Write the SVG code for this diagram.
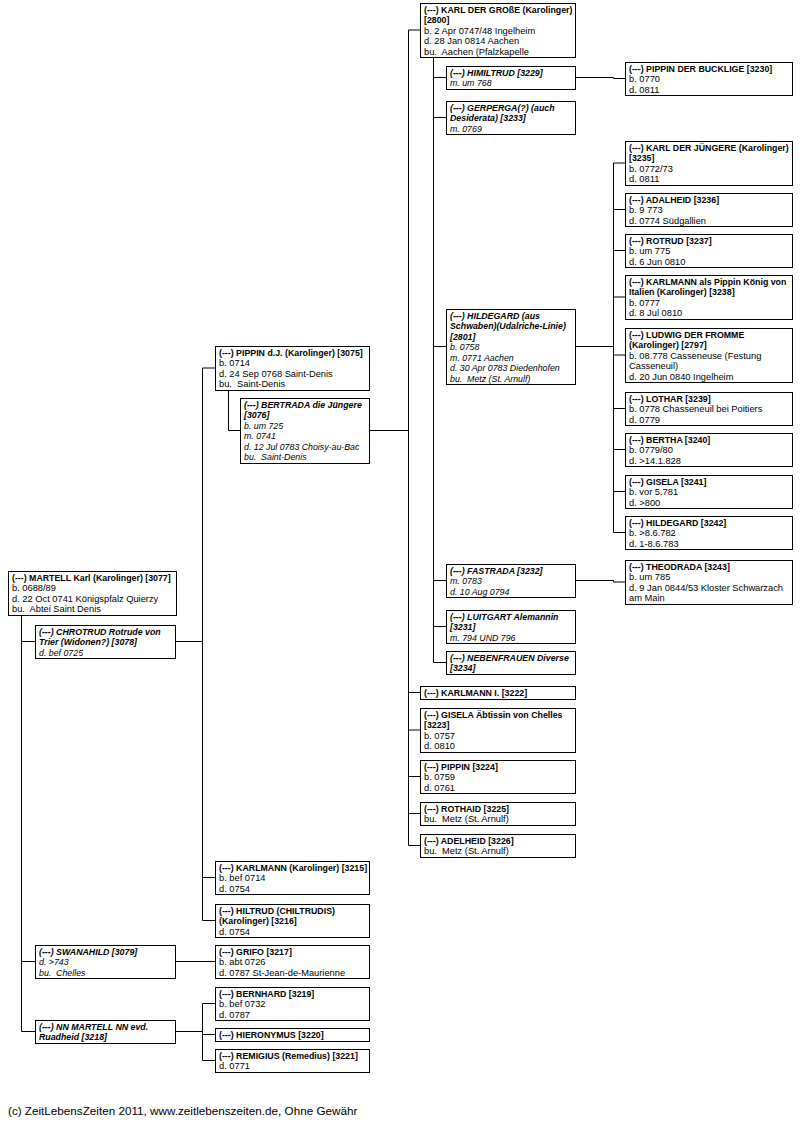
<svg xmlns="http://www.w3.org/2000/svg" width="812" height="1122" viewBox="0 0 812 1122">
<style>
rect{fill:#fff;stroke:#000;stroke-width:1}
text{font-family:"Liberation Sans",Arial,sans-serif;font-size:9.3px;fill:#000;white-space:pre}
.n{font-weight:bold;font-size:8.8px}
.s text{font-style:italic;font-size:8.8px}
.c path{fill:none;stroke:#000;stroke-width:1}
.f{font-size:11.7px}
</style>
<rect x="0" y="0" width="812" height="1122" style="stroke:none"/>
<g class="c">
<path d="M21.5 615V1031.5M21.5 641.5H35M21.5 961.5H35M21.5 1031.5H35"/>
<path d="M175 641.5H202.5M202.5 368V920.5M202.5 368H215M202.5 877.5H215M202.5 920.5H215"/>
<path d="M228.5 390V430.5H240"/>
<path d="M369 430.5H408.5M408.5 30V845.5M408.5 30H420M408.5 692.5H420M408.5 730H420M408.5 776.5H420M408.5 813.5H420M408.5 845.5H420"/>
<path d="M175 961.5H215"/>
<path d="M175 1031.5H202.5M202.5 1003.5V1060.5M202.5 1003.5H215M202.5 1034.5H215M202.5 1060.5H215"/>
<path d="M433.5 57V662.5M433.5 77.5H446M433.5 117.5H446M433.5 346.5H446M433.5 580.5H446M433.5 626.5H446M433.5 662.5H446"/>
<path d="M575 77.5H613.5V78.5H625"/>
<path d="M575 346.5H613.5M613.5 163V532.5M613.5 163H625M613.5 209.5H625M613.5 250.5H625M613.5 297H625M613.5 355H625M613.5 408.5H625M613.5 449.5H625M613.5 491.5H625M613.5 532.5H625"/>
<path d="M575 580.5H613.5V582H625"/>
</g>
<g id="n3077"><rect x="8.5" y="571.5" width="168" height="44"/><text x="12" y="580.5" class="n">(---) MARTELL Karl (Karolinger) [3077]</text><text x="12" y="591">b. 0688/89</text><text x="12" y="601.5">d. 22 Oct 0741 Königspfalz Quierzy</text><text x="12" y="612">bu.  Abtei Saint Denis</text></g>
<g id="n3078" class="s"><rect x="35.5" y="625.5" width="140" height="33"/><text x="39" y="634.5" class="n">(---) CHROTRUD Rotrude von</text><text x="39" y="645" class="n">Trier (Widonen?) [3078]</text><text x="39" y="655.5">d. bef 0725</text></g>
<g id="n3079" class="s"><rect x="35.5" y="945.5" width="140" height="33"/><text x="39" y="954.5" class="n">(---) SWANAHILD [3079]</text><text x="39" y="965">d. &gt;743</text><text x="39" y="975.5">bu.  Chelles</text></g>
<g id="n3218" class="s"><rect x="35.5" y="1020.5" width="140" height="23"/><text x="39" y="1029.5" class="n">(---) NN MARTELL NN evd.</text><text x="39" y="1040" class="n">Ruadheid [3218]</text></g>
<g id="n3075"><rect x="215.5" y="346.5" width="154" height="44"/><text x="219" y="355.5" class="n">(---) PIPPIN d.J. (Karolinger) [3075]</text><text x="219" y="366">b. 0714</text><text x="219" y="376.5">d. 24 Sep 0768 Saint-Denis</text><text x="219" y="387">bu.  Saint-Denis</text></g>
<g id="n3076" class="s"><rect x="240.5" y="398.5" width="129" height="65"/><text x="244" y="407.5" class="n">(---) BERTRADA die Jüngere</text><text x="244" y="418" class="n">[3076]</text><text x="244" y="428.5">b. um 725</text><text x="244" y="439">m. 0741</text><text x="244" y="449.5">d. 12 Jul 0783 Choisy-au-Bac</text><text x="244" y="460">bu.  Saint-Denis</text></g>
<g id="n3215"><rect x="215.5" y="861.5" width="154" height="33"/><text x="219" y="870.5" class="n">(---) KARLMANN (Karolinger) [3215]</text><text x="219" y="881">b. bef 0714</text><text x="219" y="891.5">d. 0754</text></g>
<g id="n3216"><rect x="215.5" y="904.5" width="154" height="33"/><text x="219" y="913.5" class="n">(---) HILTRUD (CHILTRUDIS)</text><text x="219" y="924" class="n">(Karolinger) [3216]</text><text x="219" y="934.5">d. 0754</text></g>
<g id="n3217"><rect x="215.5" y="945.5" width="154" height="33"/><text x="219" y="954.5" class="n">(---) GRIFO [3217]</text><text x="219" y="965">b. abt 0726</text><text x="219" y="975.5">d. 0787 St-Jean-de-Maurienne</text></g>
<g id="n3219"><rect x="215.5" y="987.5" width="154" height="33"/><text x="219" y="996.5" class="n">(---) BERNHARD [3219]</text><text x="219" y="1007">b. bef 0732</text><text x="219" y="1017.5">d. 0787</text></g>
<g id="n3220"><rect x="215.5" y="1028.5" width="154" height="13"/><text x="219" y="1038" class="n">(---) HIERONYMUS [3220]</text></g>
<g id="n3221"><rect x="215.5" y="1049.5" width="154" height="23"/><text x="219" y="1058.5" class="n">(---) REMIGIUS (Remedius) [3221]</text><text x="219" y="1069">d. 0771</text></g>
<g id="n2800"><rect x="420.5" y="3.5" width="155" height="54"/><text x="424" y="12.5" class="n">(---) KARL DER GROßE (Karolinger)</text><text x="424" y="23" class="n">[2800]</text><text x="424" y="33.5">b. 2 Apr 0747/48 Ingelheim</text><text x="424" y="44">d. 28 Jan 0814 Aachen</text><text x="424" y="54.5">bu.  Aachen (Pfalzkapelle</text></g>
<g id="n3229" class="s"><rect x="446.5" y="66.5" width="129" height="23"/><text x="450" y="75.5" class="n">(---) HIMILTRUD [3229]</text><text x="450" y="86">m. um 768</text></g>
<g id="n3233" class="s"><rect x="446.5" y="101.5" width="129" height="33"/><text x="450" y="110.5" class="n">(---) GERPERGA(?) (auch</text><text x="450" y="121" class="n">Desiderata) [3233]</text><text x="450" y="131.5">m. 0769</text></g>
<g id="n2801" class="s"><rect x="446.5" y="309.5" width="129" height="75"/><text x="450" y="318.5" class="n">(---) HILDEGARD (aus</text><text x="450" y="329" class="n">Schwaben)(Udalriche-Linie)</text><text x="450" y="339.5" class="n">[2801]</text><text x="450" y="350">b. 0758</text><text x="450" y="360.5">m. 0771 Aachen</text><text x="450" y="371">d. 30 Apr 0783 Diedenhofen</text><text x="450" y="381.5">bu.  Metz (St. Arnulf)</text></g>
<g id="n3232" class="s"><rect x="446.5" y="564.5" width="129" height="33"/><text x="450" y="573.5" class="n">(---) FASTRADA [3232]</text><text x="450" y="584">m. 0783</text><text x="450" y="594.5">d. 10 Aug 0794</text></g>
<g id="n3231" class="s"><rect x="446.5" y="610.5" width="129" height="33"/><text x="450" y="619.5" class="n">(---) LUITGART Alemannin</text><text x="450" y="630" class="n">[3231]</text><text x="450" y="640.5">m. 794 UND 796</text></g>
<g id="n3234" class="s"><rect x="446.5" y="651.5" width="129" height="23"/><text x="450" y="660.5" class="n">(---) NEBENFRAUEN Diverse</text><text x="450" y="671" class="n">[3234]</text></g>
<g id="n3222"><rect x="420.5" y="686.5" width="155" height="13"/><text x="424" y="696" class="n">(---) KARLMANN I. [3222]</text></g>
<g id="n3223"><rect x="420.5" y="708.5" width="155" height="44"/><text x="424" y="717.5" class="n">(---) GISELA Äbtissin von Chelles</text><text x="424" y="728" class="n">[3223]</text><text x="424" y="738.5">b. 0757</text><text x="424" y="749">d. 0810</text></g>
<g id="n3224"><rect x="420.5" y="760.5" width="155" height="33"/><text x="424" y="769.5" class="n">(---) PIPPIN [3224]</text><text x="424" y="780">b. 0759</text><text x="424" y="790.5">d. 0761</text></g>
<g id="n3225"><rect x="420.5" y="802.5" width="155" height="23"/><text x="424" y="811.5" class="n">(---) ROTHAID [3225]</text><text x="424" y="822">bu.  Metz (St. Arnulf)</text></g>
<g id="n3226"><rect x="420.5" y="834.5" width="155" height="23"/><text x="424" y="843.5" class="n">(---) ADELHEID [3226]</text><text x="424" y="854">bu.  Metz (St. Arnulf)</text></g>
<g id="n3230"><rect x="625.5" y="62.5" width="167" height="33"/><text x="629" y="71.5" class="n">(---) PIPPIN DER BUCKLIGE [3230]</text><text x="629" y="82">b. 0770</text><text x="629" y="92.5">d. 0811</text></g>
<g id="n3235"><rect x="625.5" y="141.5" width="167" height="44"/><text x="629" y="150.5" class="n">(---) KARL DER JÜNGERE (Karolinger)</text><text x="629" y="161" class="n">[3235]</text><text x="629" y="171.5">b. 0772/73</text><text x="629" y="182">d. 0811</text></g>
<g id="n3236"><rect x="625.5" y="193.5" width="167" height="33"/><text x="629" y="202.5" class="n">(---) ADALHEID [3236]</text><text x="629" y="213">b. 9 773</text><text x="629" y="223.5">d. 0774 Südgallien</text></g>
<g id="n3237"><rect x="625.5" y="234.5" width="167" height="33"/><text x="629" y="243.5" class="n">(---) ROTRUD [3237]</text><text x="629" y="254">b. um 775</text><text x="629" y="264.5">d. 6 Jun 0810</text></g>
<g id="n3238"><rect x="625.5" y="275.5" width="167" height="44"/><text x="629" y="284.5" class="n">(---) KARLMANN als Pippin König von</text><text x="629" y="295" class="n">Italien (Karolinger) [3238]</text><text x="629" y="305.5">b. 0777</text><text x="629" y="316">d. 8 Jul 0810</text></g>
<g id="n2797"><rect x="625.5" y="328.5" width="167" height="54"/><text x="629" y="337.5" class="n">(---) LUDWIG DER FROMME</text><text x="629" y="348" class="n">(Karolinger) [2797]</text><text x="629" y="358.5">b. 08.778 Casseneuse (Festung</text><text x="629" y="369">Casseneuil)</text><text x="629" y="379.5">d. 20 Jun 0840 Ingelheim</text></g>
<g id="n3239"><rect x="625.5" y="392.5" width="167" height="33"/><text x="629" y="401.5" class="n">(---) LOTHAR [3239]</text><text x="629" y="412">b. 0778 Chasseneuil bei Poitiers</text><text x="629" y="422.5">d. 0779</text></g>
<g id="n3240"><rect x="625.5" y="433.5" width="167" height="33"/><text x="629" y="442.5" class="n">(---) BERTHA [3240]</text><text x="629" y="453">b. 0779/80</text><text x="629" y="463.5">d. &gt;14.1.828</text></g>
<g id="n3241"><rect x="625.5" y="475.5" width="167" height="33"/><text x="629" y="484.5" class="n">(---) GISELA [3241]</text><text x="629" y="495">b. vor 5.781</text><text x="629" y="505.5">d. &gt;800</text></g>
<g id="n3242"><rect x="625.5" y="516.5" width="167" height="33"/><text x="629" y="525.5" class="n">(---) HILDEGARD [3242]</text><text x="629" y="536">b. &gt;8.6.782</text><text x="629" y="546.5">d. 1-8.6.783</text></g>
<g id="n3243"><rect x="625.5" y="560.5" width="167" height="44"/><text x="629" y="569.5" class="n">(---) THEODRADA [3243]</text><text x="629" y="580">b. um 785</text><text x="629" y="590.5">d. 9 Jan 0844/53 Kloster Schwarzach</text><text x="629" y="601">am Main</text></g>
<text x="8" y="1115" class="f">(c) ZeitLebensZeiten 2011, www.zeitlebenszeiten.de, Ohne Gewähr</text>
</svg>
